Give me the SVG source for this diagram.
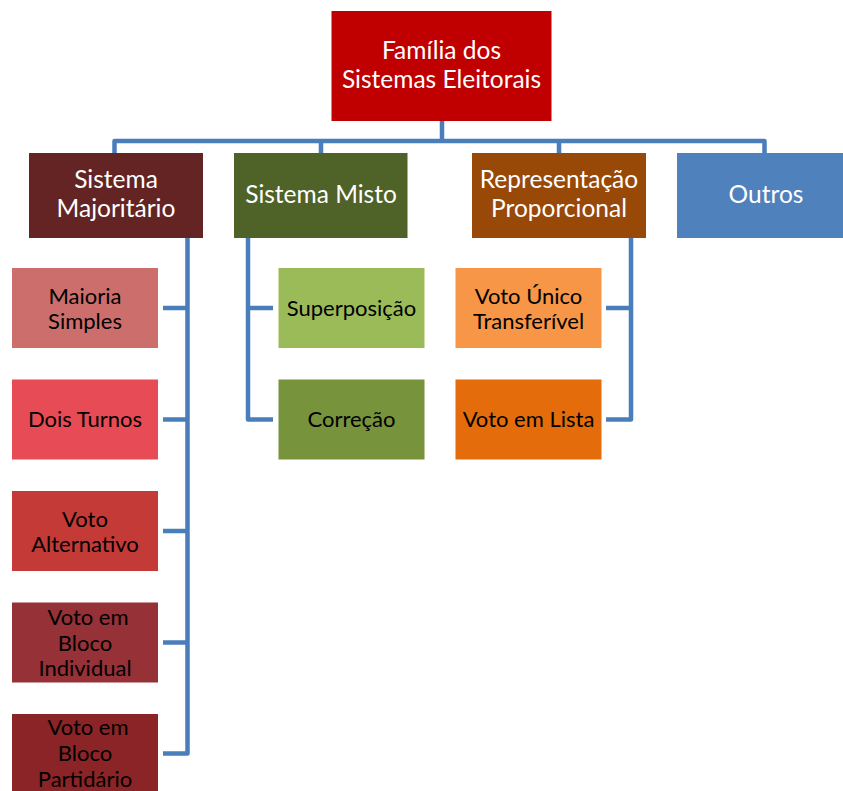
<svg xmlns="http://www.w3.org/2000/svg" width="843" height="791" viewBox="0 0 843 791">
<style>
.c{fill:none;stroke:#4A7EBB;stroke-width:4.5;stroke-linejoin:round}
text{font-family:Lato,"Open Sans","Liberation Sans",sans-serif;text-anchor:middle}
.t1{fill:#fff;font-size:24.5px}
.t2{fill:#000;font-size:22px}
</style>
<rect width="843" height="791" fill="#fff"/>
<g id="connectors">
<path class="c" d="M442 121V141M114.5 153V141H764.5V153M321 141V153M559 141V153"/>
<path class="c" d="M187.5 237V753.5H163M187.5 308H163M187.5 419.5H163M187.5 531H163M187.5 642.5H163"/>
<path class="c" d="M248 237V419.5H273M248 308H273"/>
<path class="c" d="M631 237V419.5H606M631 308H606"/>
</g>
<g id="root"><rect x="331.5" y="11" width="220" height="110" fill="#C00000"/><text class="t1" x="441.5" y="59">Família dos</text><text class="t1" x="441.5" y="88">Sistemas Eleitorais</text></g>
<g id="majoritario"><rect x="29" y="153" width="174" height="85" fill="#632423"/><text class="t1" x="116" y="188">Sistema</text><text class="t1" x="116" y="217">Majoritário</text></g>
<g id="misto"><rect x="234" y="153" width="173.5" height="85" fill="#4F6228"/><text class="t1" x="321" y="203">Sistema Misto</text></g>
<g id="proporcional"><rect x="472" y="153" width="174" height="85" fill="#984807"/><text class="t1" x="559" y="188">Representação</text><text class="t1" x="559" y="217">Proporcional</text></g>
<g id="outros"><rect x="677" y="153" width="166" height="85" fill="#4F81BD"/><text class="t1" x="766" y="203">Outros</text></g>
<g id="maioria"><rect x="12" y="268" width="146" height="80" fill="#CC6E6B"/><text class="t2" x="85" y="303.5">Maioria</text><text class="t2" x="85" y="328.5">Simples</text></g>
<g id="dois"><rect x="12" y="379.5" width="146" height="80" fill="#E74B55"/><text class="t2" x="85" y="427">Dois Turnos</text></g>
<g id="alternativo"><rect x="12" y="491" width="146" height="80" fill="#C43A37"/><text class="t2" x="85" y="526.5">Voto</text><text class="t2" x="85" y="551.5">Alternativo</text></g>
<g id="individual"><rect x="12" y="602.5" width="146" height="80" fill="#953137"/><text class="t2" x="88" y="624.5">Voto em</text><text class="t2" x="85" y="650.5">Bloco</text><text class="t2" x="85" y="675.5">Individual</text></g>
<g id="partidario"><rect x="12" y="714" width="146" height="80" fill="#8B2426"/><text class="t2" x="88" y="734.5">Voto em</text><text class="t2" x="85" y="760.5">Bloco</text><text class="t2" x="85" y="786.5">Partidário</text></g>
<g id="superposicao"><rect x="278.5" y="268" width="146" height="80" fill="#9BBB59"/><text class="t2" x="351.5" y="315.5">Superposição</text></g>
<g id="correcao"><rect x="278.5" y="379.5" width="146" height="80" fill="#77933C"/><text class="t2" x="351.5" y="427">Correção</text></g>
<g id="vut"><rect x="455.5" y="268" width="146" height="80" fill="#F79646"/><text class="t2" x="528.5" y="303.5">Voto Único</text><text class="t2" x="528.5" y="328.5">Transferível</text></g>
<g id="lista"><rect x="455.5" y="379.5" width="146" height="80" fill="#E46C0A"/><text class="t2" x="528.5" y="427">Voto em Lista</text></g>
</svg>
